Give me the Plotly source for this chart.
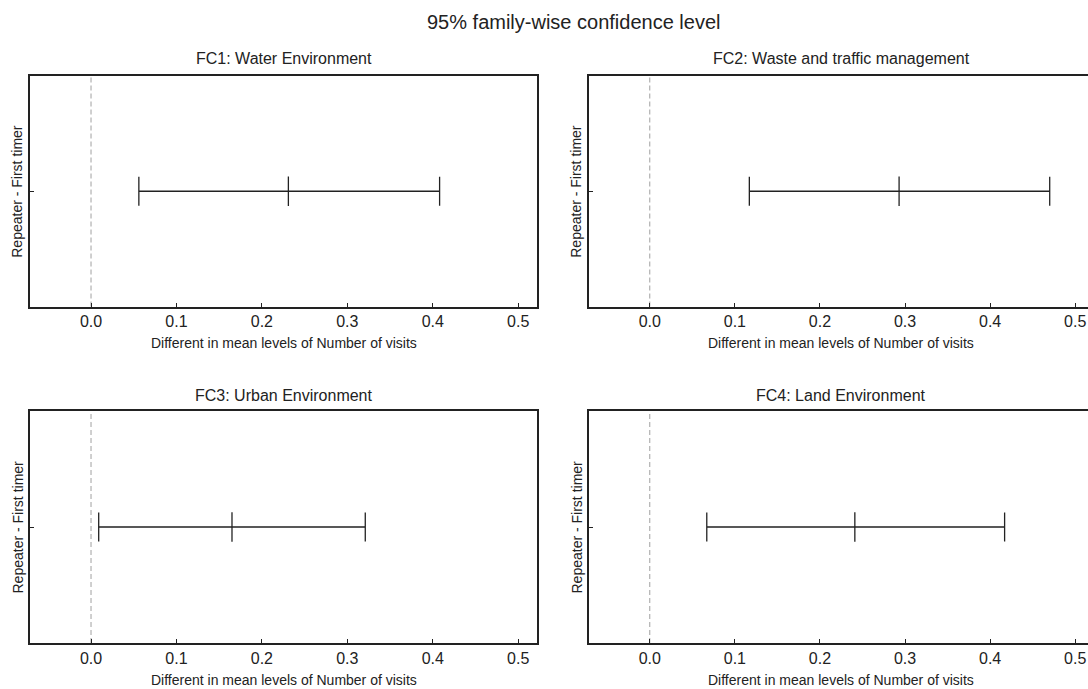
import plotly.graph_objects as go

# ---------------- data ----------------
panel_titles = [
    "FC1: Water Environment",
    "FC2: Waste and traffic management",
    "FC3: Urban Environment",
    "FC4: Land Environment",
]
comparison = ["Repeater - First timer"]
diff = [0.231, 0.293, 0.165, 0.241]
lwr = [0.056, 0.117, 0.009, 0.067]
upr = [0.408, 0.470, 0.321, 0.417]
x_ticks = [0.0, 0.1, 0.2, 0.3, 0.4, 0.5]
ref_value = 0.0
main_title = "95% family-wise confidence level"
x_label = "Different in mean levels of Number of visits"

# ---------------- layout geometry (pixels) ----------------
W, H = 1088, 689
FONT = "Liberation Sans, Arial, sans-serif"
col_px = [(29.5, 537), (588.5, 1088)]
row_px = [(76, 306.5), (411, 643)]
x_ranges = [[-0.072, 0.522], [-0.072, 0.515]]
ytitle_x = [17.5, 576.5]
col_center = [283.5, 841]
subtitle_y = [59, 395]
xtitle_y = [343, 680]

def fx(px):
    return px / W

def fy(py):
    return 1 - py / H

fig = go.Figure()
annotations = []
shapes = []

for i in range(4):
    r, c = divmod(i, 2)
    n = i + 1
    xa = "x" if n == 1 else f"x{n}"
    ya = "y" if n == 1 else f"y{n}"
    xkey = "xaxis" if n == 1 else f"xaxis{n}"
    ykey = "yaxis" if n == 1 else f"yaxis{n}"

    fig.add_trace(go.Scatter(
        x=[diff[i]], y=comparison,
        mode="markers",
        marker=dict(symbol="line-ns", size=21, color="#222",
                    line=dict(width=1.3, color="#222")),
        error_x=dict(type="data", symmetric=False,
                     array=[upr[i] - diff[i]],
                     arrayminus=[diff[i] - lwr[i]],
                     color="#222", thickness=1.3, width=14.5),
        xaxis=xa, yaxis=ya, showlegend=False, hoverinfo="x",
    ))

    fig.layout[xkey] = dict(
        domain=[fx(col_px[c][0]), fx(col_px[c][1])],
        range=x_ranges[c], anchor=ya,
        tickvals=x_ticks, tickformat=".1f",
        ticks="inside", ticklen=4, tickwidth=1, tickcolor="#222",
        showline=True, linecolor="#222", linewidth=1.5, mirror=True,
        showgrid=False, zeroline=False,
        tickfont=dict(family=FONT, size=16, color="#222"),
    )
    fig.layout[ykey] = dict(
        domain=[fy(row_px[r][1]), fy(row_px[r][0])],
        type="category", range=[-0.5, 0.5], anchor=xa,
        ticks="inside", ticklen=5, tickwidth=1, tickcolor="#222",
        showticklabels=False,
        showline=True, linecolor="#222", linewidth=1.5,
        mirror=(c == 0),
        showgrid=False, zeroline=False,
    )

    shapes.append(dict(
        type="line", xref=xa, yref=f"{ya} domain",
        x0=ref_value, x1=ref_value, y0=0, y1=1,
        line=dict(color="#a0a0a0", width=1, dash="5px,3px"), layer="below",
    ))

    annotations.append(dict(
        text=panel_titles[i], xref="paper", yref="paper",
        x=fx(col_center[c]), y=fy(subtitle_y[r]),
        xanchor="center", yanchor="middle", showarrow=False,
        font=dict(family=FONT, size=16, color="#222"),
    ))
    annotations.append(dict(
        text=x_label, xref="paper", yref="paper",
        x=fx(col_center[c]), y=fy(xtitle_y[r]),
        xanchor="center", yanchor="middle", showarrow=False,
        font=dict(family=FONT, size=14, color="#222"),
    ))
    annotations.append(dict(
        text=comparison[0], xref="paper", yref="paper",
        x=fx(ytitle_x[c]), y=fy(sum(row_px[r]) / 2),
        xanchor="center", yanchor="middle", showarrow=False, textangle=-90,
        font=dict(family=FONT, size=14, color="#222"),
    ))

annotations.append(dict(
    text=main_title, xref="paper", yref="paper",
    x=fx(573), y=fy(22), xanchor="center", yanchor="middle", showarrow=False,
    font=dict(family=FONT, size=20, color="#222"),
))

fig.update_layout(
    width=W, height=H,
    margin=dict(l=0, r=0, t=0, b=0),
    paper_bgcolor="white", plot_bgcolor="white",
    annotations=annotations, shapes=shapes,
    showlegend=False,
)

fig.write_html(
    "out.html",
    config={"displayModeBar": False},
    post_script="document.body.style.margin='0';document.body.style.overflow='hidden';",
)
